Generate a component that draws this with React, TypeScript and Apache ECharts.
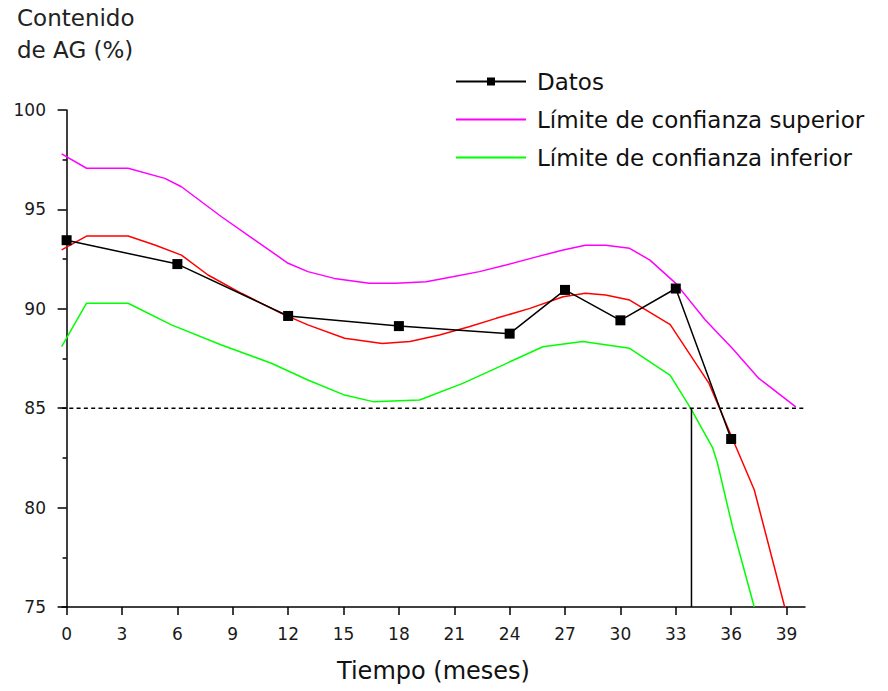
import React, { useEffect, useRef } from "react";
import * as echarts from "echarts";

const datosX = [0, 6, 12, 18, 24, 27, 30, 33, 36];
const datosY = [93.45, 92.25, 89.64, 89.13, 88.75, 90.95, 89.42, 91.02, 83.45];

const superior: number[][] = [
  [-0.27, 97.79], [1.08, 97.07], [3.33, 97.07], [5.32, 96.56], [6.22, 96.14],
  [8.39, 94.63], [10.2, 93.46], [12.0, 92.29], [13.07, 91.87], [14.5, 91.53],
  [16.4, 91.28], [17.85, 91.28], [19.48, 91.36], [20.92, 91.61], [22.36, 91.87],
  [23.8, 92.2], [25.4, 92.6], [26.9, 92.96], [28.1, 93.2], [29.2, 93.2],
  [30.5, 93.04], [31.6, 92.45], [33, 91.28], [34.6, 89.44], [36.07, 88.0],
  [37.5, 86.5], [39.5, 85.07],
];

const ajuste: number[][] = [
  [-0.27, 92.96], [1.08, 93.66], [3.33, 93.66], [4.78, 93.21], [6.22, 92.7],
  [7.66, 91.7], [9.47, 90.78], [11.63, 89.77], [13.07, 89.19], [15.06, 88.52],
  [17.1, 88.26], [18.6, 88.35], [20.2, 88.68], [21.8, 89.1], [23.27, 89.52],
  [25.1, 90.02], [26.9, 90.61], [28.1, 90.78], [29.2, 90.69], [30.5, 90.44],
  [32.7, 89.2], [34.8, 86.25], [36.1, 83.4], [37.25, 80.9], [38.9, 75],
];

const inferior: number[][] = [
  [-0.27, 88.1], [1.08, 90.28], [3.33, 90.28], [5.68, 89.19], [8.39, 88.18],
  [11.09, 87.26], [13.07, 86.42], [15.06, 85.66], [16.6, 85.33], [19.12, 85.41],
  [21.46, 86.25], [23.63, 87.17], [25.8, 88.09], [27.96, 88.35], [30.5, 88.01],
  [32.7, 86.65], [33.8, 85.0], [35.0, 83.0], [35.26, 82.23], [36.07, 79.04],
  [37.25, 75],
];

const limiteY = 85;
const limiteLineX = [-0.25, 40];
const corteX = 33.85;
const corteY = [85, 75];

const xTicks = [0, 3, 6, 9, 12, 15, 18, 21, 24, 27, 30, 33, 36, 39];

const FONT = "DejaVu Sans";

export default function App() {
  const ref = useRef<HTMLDivElement>(null);
  useEffect(() => {
    if (!ref.current) return;
    const chart = echarts.init(ref.current, undefined, { renderer: "svg" });
    const option: any = {
      animation: false,
      backgroundColor: "#ffffff",
      grid: { left: 62, right: 83, top: 110, bottom: 84, outerBoundsMode: "none" },
      graphic: [
        {
          type: "text",
          left: 17,
          top: 2,
          style: {
            text: "Contenido\nde AG (%)",
            font: `23px "${FONT}"`,
            fill: "#222",
            lineHeight: 32,
          },
        },
      ],
      legend: {
        orient: "vertical",
        left: 450,
        top: 65,
        itemWidth: 70,
        itemHeight: 10,
        itemGap: 15,
        data: [
          { name: "Datos" },
          { name: "Límite de confianza superior", itemStyle: { opacity: 0 } },
          { name: "Límite de confianza inferior", itemStyle: { opacity: 0 } },
        ],
        textStyle: { fontFamily: FONT, fontSize: 23, color: "#111", padding: [0, 0, 0, 6] },
      },
      xAxis: {
        type: "value",
        min: -0.25,
        max: 40,
        name: "Tiempo (meses)",
        nameLocation: "middle",
        nameGap: 52,
        nameTextStyle: { fontFamily: FONT, fontSize: 24, color: "#111" },
        axisLine: { lineStyle: { color: "#000", width: 1.5 } },
        axisTick: { customValues: xTicks, length: 8, lineStyle: { color: "#000", width: 1.5 } },
        axisLabel: {
          customValues: xTicks,
          margin: 18,
          fontFamily: FONT,
          fontSize: 17,
          color: "#1a1a1a",
        },
        splitLine: { show: false },
      },
      yAxis: {
        type: "value",
        min: 75,
        max: 100,
        interval: 5,
        axisLine: { show: true, lineStyle: { color: "#000", width: 1.5 } },
        axisTick: { show: true, length: 9, lineStyle: { color: "#000", width: 1.5 } },
        minorTick: { show: true, splitNumber: 2, length: 4, lineStyle: { color: "#000", width: 1.5 } },
        axisLabel: { margin: 16, fontFamily: FONT, fontSize: 17, color: "#1a1a1a" },
        splitLine: { show: false },
        minorSplitLine: { show: false },
      },
      series: [
        {
          name: "Límite de confianza superior",
          type: "line",
          data: superior,
          showSymbol: false,
          symbol: "none",
          lineStyle: { color: "#ff00ff", width: 1.5 },
          itemStyle: { color: "#ff00ff" },
        },
        {
          name: "Límite de confianza inferior",
          type: "line",
          data: inferior,
          showSymbol: false,
          symbol: "none",
          lineStyle: { color: "#00ff00", width: 1.5 },
          itemStyle: { color: "#00ff00" },
        },
        {
          name: "Ajuste",
          type: "line",
          data: ajuste,
          symbol: "none",
          lineStyle: { color: "#ff0000", width: 1.5 },
          itemStyle: { color: "#ff0000" },
        },
        {
          name: "Límite 85",
          type: "line",
          data: limiteLineX.map((x) => [x, limiteY]),
          symbol: "none",
          lineStyle: { color: "#000", width: 1.5, type: [4, 3.3] },
        },
        {
          name: "Corte",
          type: "line",
          data: corteY.map((y) => [corteX, y]),
          symbol: "none",
          lineStyle: { color: "#000", width: 1.5 },
        },
        {
          name: "Datos",
          type: "line",
          data: datosX.map((x, i) => [x, datosY[i]]),
          symbol: "rect",
          symbolSize: 10,
          lineStyle: { color: "#000", width: 1.5 },
          itemStyle: { color: "#000" },
        },
      ],
    };
    chart.setOption(option);
    return () => chart.dispose();
  }, []);
  return (
    <div
      ref={ref}
      style={{ position: "fixed", left: 0, top: 0, width: 888, height: 691 }}
    />
  );
}
